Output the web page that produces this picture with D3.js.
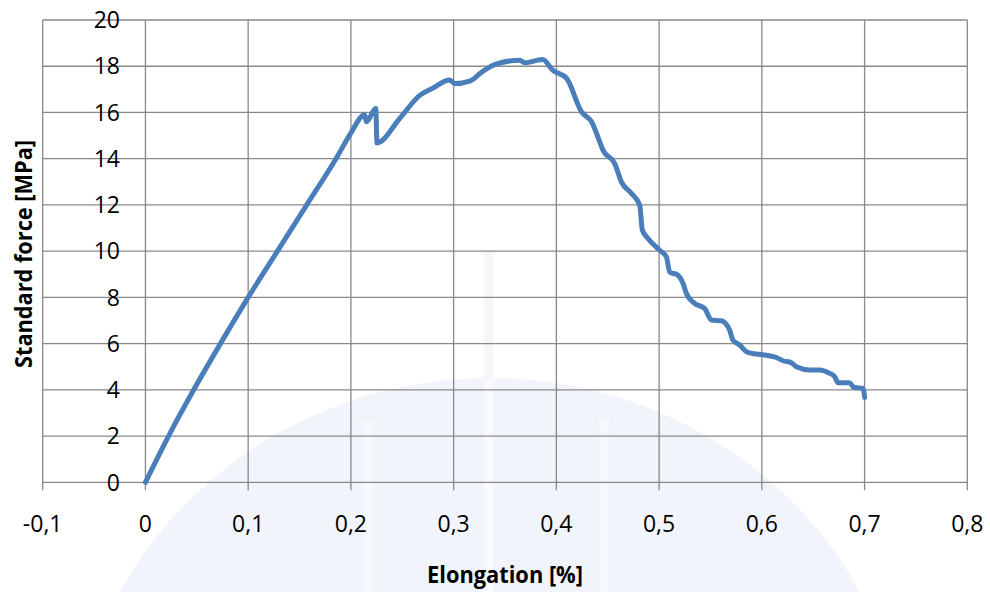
<!DOCTYPE html>
<html><head><meta charset="utf-8">
<script src="https://cdn.jsdelivr.net/npm/d3@7"></script>
<style>
html,body{margin:0;padding:0;background:#fff;}
svg{display:block;}
text{font-family:"Open Sans",sans-serif;fill:#000;}
</style></head>
<body>
<svg id="chart" width="990" height="592"></svg>
<script>
// ---- data ----
const xTicks = [-0.1, 0, 0.1, 0.2, 0.3, 0.4, 0.5, 0.6, 0.7, 0.8];
const yTicks = [0, 2, 4, 6, 8, 10, 12, 14, 16, 18, 20];
const elongation = [0, 0.0225, 0.047, 0.073, 0.1, 0.1285, 0.157, 0.1855, 0.1998, 0.2134, 0.2151, 0.2242, 0.2254,
  0.2475, 0.267, 0.2796, 0.2962, 0.301, 0.3157, 0.3283, 0.3419, 0.3643, 0.3692, 0.3867, 0.3964, 0.41,
  0.4246, 0.4344, 0.4422, 0.4454, 0.4568, 0.4633, 0.473, 0.4811, 0.4837, 0.4892, 0.5006, 0.5071, 0.5103,
  0.5184, 0.5233, 0.5266, 0.5346, 0.5444, 0.5509, 0.5606, 0.5687, 0.5719, 0.5785, 0.585, 0.5947, 0.6044,
  0.6142, 0.6206, 0.6288, 0.6336, 0.6466, 0.6564, 0.6661, 0.671, 0.6741, 0.6855, 0.6894, 0.6985, 0.7001];
const force = [0, 2, 4, 6, 8, 10, 12, 14, 15.1, 15.9, 15.6, 16.17, 14.68,
  15.74, 16.74, 17.05, 17.4, 17.25, 17.36, 17.78, 18.1, 18.26, 18.15, 18.29, 17.83, 17.47,
  16.02, 15.59, 14.73, 14.37, 13.79, 13.0, 12.5, 11.99, 10.91, 10.55, 10.04, 9.75, 9.1,
  8.96, 8.6, 8.17, 7.74, 7.52, 7.02, 6.99, 6.58, 6.15, 5.94, 5.65, 5.55, 5.5,
  5.4, 5.26, 5.17, 5.0, 4.86, 4.86, 4.71, 4.57, 4.31, 4.31, 4.11, 4.06, 3.67];
const xTitle = "Elongation [%]";
const yTitle = "Standard force [MPa]";

// ---- layout ----
const svg = d3.select("#chart");
const x = d3.scaleLinear().domain([-0.1, 0.8]).range([42.7, 967.3]);
const y = d3.scaleLinear().domain([0, 20]).range([482.3, 20]);
const fmt = v => (Math.abs(v) < 1e-9 ? "0" : d3.format(".1f")(v).replace("\u2212", "-").replace(".", ","));

// faint watermark in background
const wm = svg.append("g");
wm.append("ellipse").attr("cx", 490).attr("cy", 778).attr("rx", 418).attr("ry", 400)
  .attr("fill", "#f1f4fa");
wm.append("rect").attr("x", 484).attr("y", 250).attr("width", 9).attr("height", 130).attr("fill", "#f4f6fa");
wm.append("rect").attr("x", 484).attr("y", 380).attr("width", 9).attr("height", 212).attr("fill", "#f9fafd");
wm.append("rect").attr("x", 363).attr("y", 420).attr("width", 10).attr("height", 172).attr("fill", "#f6f8fb");
wm.append("rect").attr("x", 599).attr("y", 420).attr("width", 10).attr("height", 172).attr("fill", "#f6f8fb");

// grid
const grid = svg.append("g").attr("stroke", "#898989").attr("stroke-width", 1.3);
grid.selectAll("line.h").data(yTicks).join("line").attr("class", "h")
  .attr("x1", x(-0.1)).attr("x2", x(0.8)).attr("y1", d => y(d)).attr("y2", d => y(d));
grid.selectAll("line.v").data(xTicks).join("line").attr("class", "v")
  .attr("x1", d => x(d)).attr("x2", d => x(d)).attr("y1", y(20)).attr("y2", y(0) + 8);

// tick labels
svg.append("g").selectAll("text").data(xTicks).join("text")
  .attr("x", d => x(d)).attr("y", 532).attr("text-anchor", "middle")
  .attr("font-size", 23).text(fmt);
svg.append("g").selectAll("text").data(yTicks).join("text")
  .attr("x", 120).attr("y", d => y(d) + 8.2).attr("text-anchor", "end")
  .attr("font-size", 23).text(d => d);

// curve
const pts = elongation.map((e, i) => [e, force[i]]);
svg.append("path").datum(pts)
  .attr("fill", "none").attr("stroke", "#4a7ebb").attr("stroke-width", 5)
  .attr("stroke-linejoin", "round").attr("stroke-linecap", "round")
  .attr("d", d3.line().curve(d3.curveMonotoneX).x(d => x(d[0])).y(d => y(d[1])));

// axis titles
svg.append("text").attr("x", 505).attr("y", 582.5).attr("text-anchor", "middle")
  .attr("font-size", 23).attr("font-weight", "bold")
  .attr("textLength", 156).attr("lengthAdjust", "spacingAndGlyphs").text(xTitle);
svg.append("text").attr("transform", "translate(31.5,254) rotate(-90)").attr("text-anchor", "middle")
  .attr("font-size", 23).attr("font-weight", "bold")
  .attr("textLength", 228).attr("lengthAdjust", "spacingAndGlyphs").text(yTitle);
</script>
</body></html>
